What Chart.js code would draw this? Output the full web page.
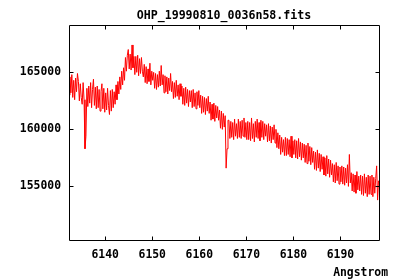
<!DOCTYPE html>
<html>
<head>
<meta charset="utf-8">
<script src="https://cdn.jsdelivr.net/npm/chart.js@4/dist/chart.umd.min.js"></script>
<style>
  html, body { margin: 0; padding: 0; background: #fff; }
  #wrap { width: 400px; height: 280px; }
</style>
</head>
<body>
<div id="wrap"><canvas id="spec" width="400" height="280"></canvas></div>
<script>
  "use strict";

  var TITLE = "OHP_19990810_0036n58.fits";
  var X_LABEL = "Angstrom";
  var X_MIN = 6132.3;
  var X_MAX = 6198.2;
  var Y_MIN = 150300;
  var Y_MAX = 169150;
  var X_TICKS = [6140, 6150, 6160, 6170, 6180, 6190];
  var Y_TICKS = [155000, 160000, 165000];

  // sampling grid of the spectrum (Angstrom)
  var WAVE_START = 6132.3;
  var WAVE_STEP = 0.2;

  // flux, 10 samples (2 A) per row
  var FLUX = [
    163000, 164600, 163200, 164800, 162800, 164300, 162600, 164500, 163300, 164900,
    164200, 162500, 164000, 162800, 162200, 164100, 162600, 158300, 159400, 163600,
    162000, 163800, 162300, 164100, 161900, 163500, 164400, 162100, 163700, 161800,
    163800, 161900, 163500, 161600, 163300, 164000, 161800, 163600, 161500, 163200,
    161700, 163600, 162100, 161300, 163400, 161600, 163500, 161900, 163300, 162200,
    163900, 162600, 164200, 163100, 164600, 163500, 165100, 163900, 165400, 164300,
    166300, 165100, 166500, 167000, 165300, 166600, 165200, 167400, 165400, 166400,
    164800, 166400, 165000, 166500, 164700, 166200, 164900, 166300, 165100, 164600,
    165700, 164100, 165500, 164000, 165300, 164200, 165800, 163900, 165100, 164300,
    165000, 163600, 164900, 163500, 164800, 163700, 165100, 163800, 165600, 163900,
    164800, 163200, 164700, 163300, 164600, 163100, 164500, 163400, 164900, 163300,
    164200, 162700, 164100, 162800, 164300, 162900, 163900, 162600, 164000, 162900,
    163800, 162200, 163600, 162100, 163700, 162300, 163500, 162000, 163400, 162400,
    163400, 161900, 163500, 162000, 163200, 161800, 163300, 162100, 163400, 161900,
    163000, 161400, 162900, 161500, 162800, 161300, 162700, 161600, 162900, 161400,
    162400, 160800, 162200, 160900, 162300, 160700, 162100, 161000, 162000, 160800,
    161700, 160100, 161600, 160000, 161400, 160200, 161200, 156600, 158300, 160800,
    160800, 159200, 160700, 159300, 160600, 159100, 160900, 159400, 160500, 159200,
    160900, 159300, 160700, 159200, 160800, 159400, 161000, 159300, 160600, 159100,
    160700, 159100, 160600, 159000, 161000, 159200, 160500, 158900, 160700, 159300,
    160900, 159200, 160600, 159000, 160800, 159300, 160700, 159100, 160500, 159400,
    160400, 158900, 160500, 159000, 160300, 158800, 160200, 159100, 160400, 158800,
    160000, 158400, 159700, 158300, 159500, 157800, 159300, 158000, 159100, 157700,
    159300, 157700, 159200, 157800, 159100, 157600, 159400, 157500, 159000, 157800,
    159100, 157500, 159000, 157400, 159200, 157600, 158900, 157300, 158800, 157500,
    158700, 157100, 158600, 157000, 158800, 157200, 158500, 156900, 158400, 157100,
    158100, 156500, 158000, 156400, 158200, 156600, 157900, 156300, 157800, 156500,
    157600, 156000, 157500, 155900, 157700, 156100, 157400, 155800, 157300, 156000,
    157000, 155400, 156900, 155300, 157100, 155500, 156800, 155200, 156700, 155400,
    156800, 155200, 156700, 155100, 156600, 155300, 156900, 155000, 157800, 155300,
    156200, 154600, 156100, 154500, 156000, 154400, 156300, 154700, 155900, 154600,
    156000, 154300, 155900, 154200, 156100, 154400, 155800, 154100, 156000, 154300,
    155900, 154300, 156000, 154100, 155800, 154400, 155700, 156800, 153800, 155500
  ];

  var FONT = "'DejaVu Sans Mono', monospace";
  var TICK_LEN = 4;

  var points = FLUX.map(function (f, i) {
    return { x: +(WAVE_START + i * WAVE_STEP).toFixed(1), y: f };
  });

  // gnuplot style: full frame, inward ticks mirrored on all sides, title and x label
  var framePlugin = {
    id: "frame",
    afterDatasetsDraw: function (chart) {
      var ctx = chart.ctx;
      var a = chart.chartArea;
      var xs = chart.scales.x;
      var ys = chart.scales.y;
      var l = Math.round(a.left) + 0.5, r = Math.round(a.right) + 0.5;
      var t = Math.round(a.top) + 0.5, b = Math.round(a.bottom) + 0.5;
      ctx.save();
      ctx.strokeStyle = "#000";
      ctx.lineWidth = 1;
      ctx.beginPath();
      ctx.rect(l, t, r - l, b - t);
      X_TICKS.forEach(function (v) {
        var px = Math.round(xs.getPixelForValue(v)) + 0.5;
        ctx.moveTo(px, t); ctx.lineTo(px, t + TICK_LEN);
        ctx.moveTo(px, b); ctx.lineTo(px, b - TICK_LEN);
      });
      Y_TICKS.forEach(function (v) {
        var py = Math.round(ys.getPixelForValue(v)) + 0.5;
        ctx.moveTo(l, py); ctx.lineTo(l + TICK_LEN, py);
        ctx.moveTo(r, py); ctx.lineTo(r - TICK_LEN, py);
      });
      ctx.stroke();
      ctx.fillStyle = "#000";
      ctx.textBaseline = "alphabetic";
      ctx.font = "bold 11.6px " + FONT;
      ctx.textAlign = "center";
      ctx.fillText(TITLE, (a.left + a.right) / 2, 19);
      ctx.font = "bold 11.4px " + FONT;
      ctx.textAlign = "right";
      ctx.fillText(X_LABEL, 388, 275.5);
      ctx.restore();
    }
  };

  new Chart(document.getElementById("spec"), {
    type: "line",
    data: {
      datasets: [{
        data: points,
        borderColor: "#ff0000",
        borderWidth: 1,
        pointRadius: 0,
        tension: 0,
        fill: false
      }]
    },
    options: {
      responsive: false,
      devicePixelRatio: 1,
      animation: false,
      layout: { padding: { left: 0, right: 21, top: 25, bottom: 0 } },
      scales: {
        x: {
          type: "linear",
          min: X_MIN,
          max: X_MAX,
          afterBuildTicks: function (scale) {
            scale.ticks = X_TICKS.map(function (v) { return { value: v }; });
          },
          afterFit: function (scale) { scale.height = 40; },
          grid: { display: false, drawTicks: false },
          border: { display: false },
          ticks: {
            color: "#000",
            padding: 8,
            maxRotation: 0,
            font: { family: FONT, size: 11.4, weight: "bold" },
            callback: function (v) { return String(v); }
          }
        },
        y: {
          type: "linear",
          min: Y_MIN,
          max: Y_MAX,
          afterBuildTicks: function (scale) {
            scale.ticks = Y_TICKS.map(function (v) { return { value: v }; });
          },
          afterFit: function (scale) { scale.width = 69; },
          grid: { display: false, drawTicks: false },
          border: { display: false },
          ticks: {
            color: "#000",
            padding: 8,
            font: { family: FONT, size: 11.4, weight: "bold" },
            callback: function (v) { return String(v); }
          }
        }
      },
      plugins: {
        legend: { display: false },
        tooltip: { enabled: false },
        title: { display: false }
      }
    },
    plugins: [framePlugin]
  });
</script>
</body>
</html>
